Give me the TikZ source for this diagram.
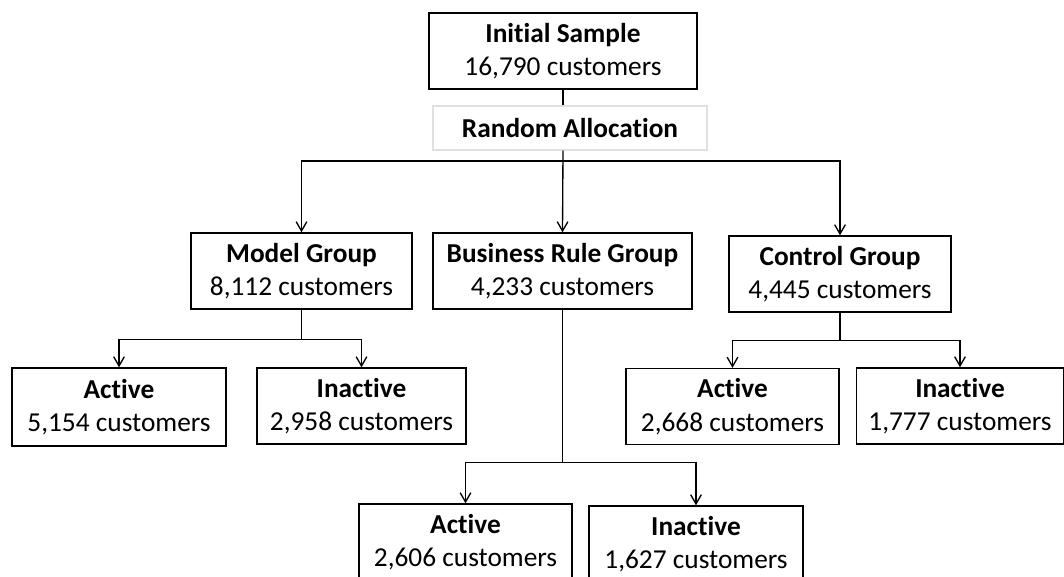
\documentclass[tikz,border=0pt]{standalone}
\usepackage{fontspec}
\setmainfont[Ligatures=NoCommon]{Carlito}
\usetikzlibrary{arrows.meta}
\tikzset{
	grp/.style={draw, line width=1pt, align=center, inner sep=0pt, minimum height=57pt, font=\fontsize{20.5}{25}\selectfont},
	link/.style={line width=1pt},
	>={Straight Barb[length=7pt, width=8pt]}
}
\begin{document}
\begin{tikzpicture}[x=0.75pt, y=-0.75pt]
		\useasboundingbox (0,0) rectangle (1064,577);
		\clip (0,0) rectangle (1064,577);

		% first two levels
		\node[grp, minimum width=201pt] (init) at (563,51) {\textbf{Initial Sample}\\16,790 customers};
		\node[grp, draw=black!12, minimum width=205.5pt, minimum height=33pt] (alloc) at (570,128) {\textbf{Random Allocation}};
		\node[grp, minimum width=165.75pt] (model) at (301.5,271) {\textbf{Model Group}\\8,112 customers};
		\node[grp, minimum width=194.25pt] (rule) at (562.5,271) {\textbf{Business Rule Group}\\4,233 customers};
		\node[grp, minimum width=166.5pt] (ctrl) at (840,274) {\textbf{Control Group}\\4,445 customers};

		% outcomes
		\node[grp, minimum width=160.5pt, minimum height=58.5pt] (mact) at (119,407) {\textbf{Active}\\5,154 customers};
		\node[grp, minimum width=156.75pt] (minact) at (361.5,406) {\textbf{Inactive}\\2,958 customers};
		\node[grp, minimum width=159.75pt] (cact) at (732.5,406.5) {\textbf{Active}\\2,668 customers};
		\node[grp, minimum width=155.25pt] (cinact) at (960,406) {\textbf{Inactive}\\1,777 customers};
		\node[grp, minimum width=159.75pt] (ract) at (465.5,542) {\textbf{Active}\\2,606 customers};
		\node[grp, minimum width=160.5pt] (rinact) at (696,544) {\textbf{Inactive}\\1,627 customers};

		\coordinate (split) at (563,161);
		\draw[link] (init.south) -- (init.south |- alloc.north);
		\draw[link, ->] (init.south |- alloc.south) -- (rule.north);
		\draw[link, ->] (split) -- (split -| model.north) -- (model.north);
		\draw[link, ->] (split) -- (split -| ctrl.north) -- (ctrl.north);

		\draw[link, ->] (model.south) -- ++(0,30) -| (mact.north);
		\draw[link, ->] (model.south) -- ++(0,30) -| (minact.north);
		\draw[link, ->] (ctrl.south) -- ++(0,28) -| (cact.north);
		\draw[link, ->] (ctrl.south) -- ++(0,28) -| (cinact.north);
		\draw[link, ->] (rule.south) -- ++(0,153) -| (ract.north);
		\draw[link, ->] (rule.south) -- ++(0,153) -| (rinact.north);
	\end{tikzpicture}
\end{document}
